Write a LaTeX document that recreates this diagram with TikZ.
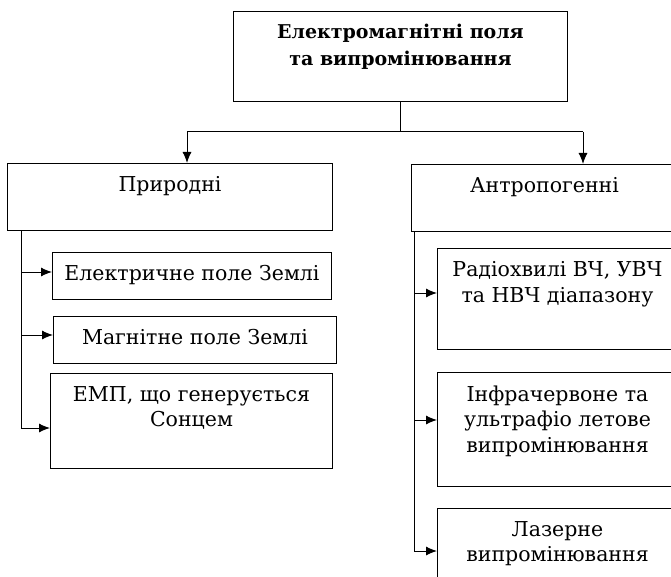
\documentclass[tikz,border=0pt]{standalone}
\usepackage{fontspec}
\setmainfont{DejaVu Serif}
\usetikzlibrary{arrows.meta}
\newcommand{\toptxt}[3]{\parbox[c][#2][t]{#1}{\centering\vspace*{13pt}#3\par}}
\tikzset{
  blockbox/.style={draw, line width=1pt, inner sep=0pt, anchor=north west,
    font=\fontsize{20.5pt}{25.5pt}\selectfont},
  headbox/.style={blockbox, font=\fontsize{19pt}{27pt}\selectfont\bfseries}
}
\begin{document}
\begin{tikzpicture}[x=1pt,y=1pt,line width=1pt,>={Latex[length=11pt,width=9pt]}]
      \useasboundingbox (0,0) rectangle (671,-577);
      \node[headbox] (emf) at (233,-11)
        {\toptxt{334pt}{90pt}{Електромагнітні поля\\та випромінювання}};
      \node[blockbox] (nat) at (7,-163) {\toptxt{325pt}{67pt}{Природні}};
      \node[blockbox] (anth) at (411,-164) {\toptxt{266pt}{67pt}{Антропогенні}};
      \node[blockbox] (eel) at (52,-252) {\toptxt{279pt}{47pt}{Електричне поле Землі}};
      \node[blockbox] (mag) at (53,-316) {\toptxt{283pt}{47pt}{Магнітне поле Землі}};
      \node[blockbox] (sun) at (50,-373) {\toptxt{282pt}{95pt}{ЕМП, що генерується\\Сонцем}};
      \node[blockbox] (radio) at (437,-248)
        {\toptxt{240pt}{101pt}{Радіохвилі ВЧ, УВЧ\\та НВЧ діапазону}};
      \node[blockbox] (infra) at (437,-372)
        {\toptxt{240pt}{114pt}{Інфрачервоне та\\ультрафіо летове\\випромінювання}};
      \node[blockbox] (laser) at (437,-508)
        {\toptxt{240pt}{100pt}{Лазерне\\випромінювання}};
      \coordinate (lt) at (187,-132);
      \coordinate (rt) at (583,-132);
      \coordinate (l1) at (21,-272);
      \coordinate (l2) at (21,-335);
      \coordinate (l3) at (21,-428);
      \coordinate (r1) at (414,-293);
      \coordinate (r2) at (414,-420);
      \coordinate (r3) at (414,-551);
      \draw (emf.south) -- (emf.south |- lt);
      \draw (lt) -- (rt);
      \draw[->] (lt) -- (lt |- nat.north);
      \draw[->] (rt) -- (rt |- anth.north);
      \draw (l1 |- nat.south) -- (l3);
      \draw[->] (l1) -- (l1 -| eel.west);
      \draw[->] (l2) -- (l2 -| mag.west);
      \draw[->] (l3) -- (l3 -| sun.west);
      \draw (r1 |- anth.south) -- (r3);
      \draw[->] (r1) -- (r1 -| radio.west);
      \draw[->] (r2) -- (r2 -| infra.west);
      \draw[->] (r3) -- (r3 -| laser.west);
    \end{tikzpicture}
\end{document}
